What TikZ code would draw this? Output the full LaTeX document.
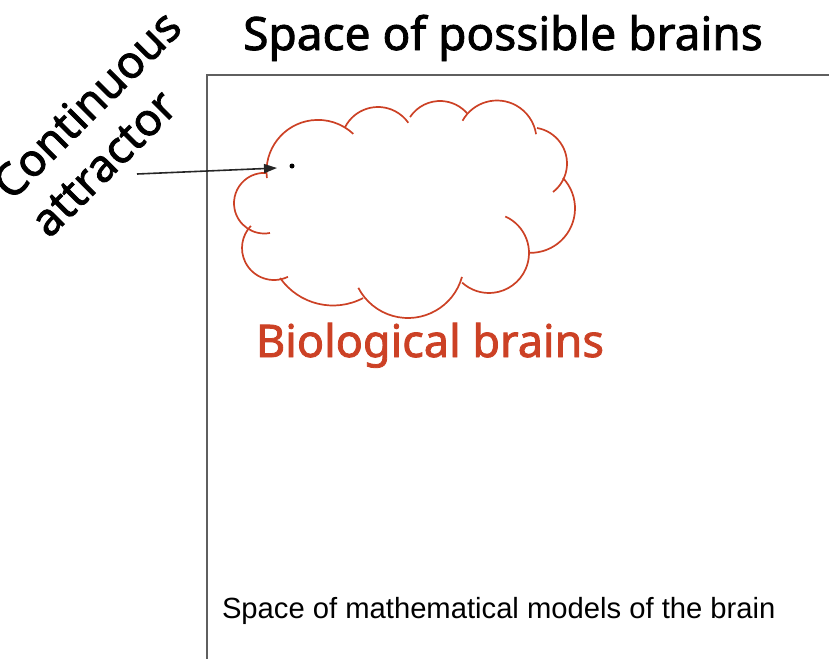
\documentclass[tikz,border=0pt]{standalone}
\usepackage{fontspec}
\usetikzlibrary{arrows.meta}
\newfontfamily\headfont{Noto Sans}[FakeBold=1.8]
\newfontfamily\plainfont{Liberation Sans}
\definecolor{brainred}{HTML}{CC4125}
\definecolor{framegray}{HTML}{5F5F5F}
% one puff of the cloud: centre x, centre y, radius, from angle, to angle
\newcommand{\puff}[5]{%
  \draw[puffline] ({#1+#3*cos(#4)},{#2+#3*sin(#4)}) arc[start angle=#4, end angle=#5, radius=#3];}
\begin{document}
\begin{tikzpicture}[
  x=1pt, y=-1pt,
  every node/.style={inner sep=0pt, outer sep=0pt},
  headline/.style={font=\headfont\fontsize{46}{55}\selectfont},
  puffline/.style={draw=brainred, line width=1.7pt},
  frame/.style={draw=framegray, line width=1.6pt}
]
\useasboundingbox (0,0) rectangle (829,659);

% the space of models, only its top and left sides show
\draw[frame] (829,75) -| (207,659);

\node[headline, anchor=base] (title) at (503,50) {Space of possible brains};
\node[font=\plainfont\fontsize{29.2}{35}\selectfont, anchor=base west] (models) at (222,618)
  {Space of mathematical models of the brain};

% cloud, clockwise from the upper left
\puff{318}{171.4}{51.5}{172.6}{313.2}
\puff{378}{144}{37}{207.3}{325}
\puff{440}{137}{36}{213.7}{319.4}
\puff{497}{140}{39.5}{209.2}{351.5}
\puff{531}{163.5}{36}{279.6}{412.3}
\puff{530.6}{208.4}{44.4}{316.8}{450.8}
\puff{489}{253}{40}{294}{492.2}
\puff{408}{262}{56}{15.5}{152.5}
\puff{333}{241}{64.5}{62.2}{145}
\puff{274}{248}{32}{64.2}{223.7}
\puff{264.3}{203.2}{30.3}{79.2}{275.1}

\node[text=brainred, font=\headfont\fontsize{45}{53}\selectfont, anchor=base] (bio) at (430,357) {Biological brains};

% the attractor and its label
\node[circle, fill=black, minimum size=5pt] (dot) at (292,166) {};
\node[font=\headfont\fontsize{45}{53}\selectfont, rotate=45, align=left] (attr) at (105,123) {Continuous\\attractor};
\coordinate (tail) at (137,174);
\coordinate (tip) at (277,168);
\draw[-{Triangle[length=13pt,width=9pt]}, line width=1.6pt, black!85] (tail) -- (tip);
\end{tikzpicture}
\end{document}
